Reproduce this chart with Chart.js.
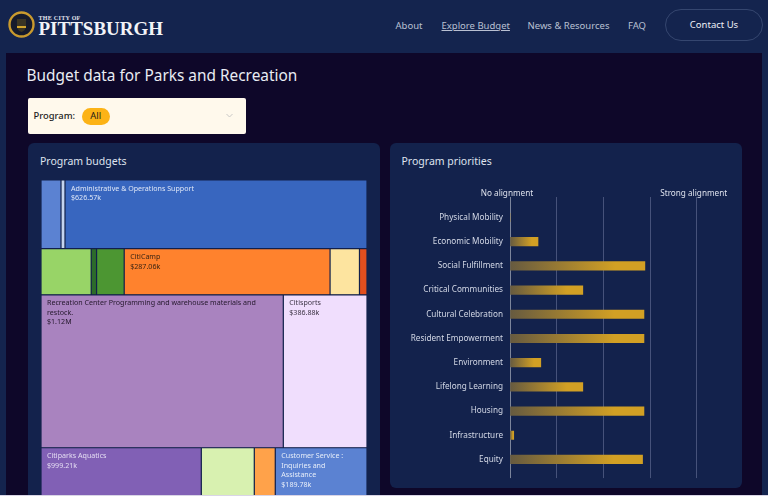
<!DOCTYPE html>
<html>
<head>
<meta charset="utf-8">
<title>Budget data for Parks and Recreation</title>
<script src="https://cdn.jsdelivr.net/npm/chart.js@4/dist/chart.umd.js"></script>
<style>
  html, body { margin: 0; padding: 0; }
  body { width: 768px; height: 496px; overflow: hidden; position: relative; background: #14244e; font-family: "Noto Sans", sans-serif; color: #fff; }
  .abs { position: absolute; white-space: nowrap; }
  #main { left: 6px; top: 53px; width: 756px; height: 443px; background: #0e0729; }
  #seal { left: 8px; top: 11px; width: 27px; height: 27px; }
  #cityof { left: 38.5px; top: 14px; font: bold 6px/8px "Liberation Serif", serif; letter-spacing: .3px; color: #e4e6ee; }
  #city { left: 38.5px; top: 18px; font: bold 19px/22px "Liberation Serif", serif; color: #f2f3f7; }
  .nav { top: 18.5px; font-size: 9.5px; line-height: 14px; color: #b9c0d2; }
  #contact { left: 665px; top: 9px; width: 96px; height: 30px; border: 1px solid #35466f; border-radius: 16px; text-align: center; line-height: 30.500px; font-size: 9.5px; color: #eef0f6; }
  #title { left: 26.5px; top: 65px; font-size: 15.4px; line-height: 22px; color: #e9ecf3; }
  #filter { left: 28px; top: 98px; width: 218px; height: 36px; background: #fff9ec; border-radius: 2px; }
  #filter b { position: absolute; left: 5.5px; top: 11px; font-size: 9.4px; line-height: 14px; font-weight: 500; color: #1d1d22; }
  #pill { position: absolute; left: 53.5px; top: 10px; width: 28.5px; height: 16.5px; border-radius: 9px; background: #fcb316; color: #26201a; font-size: 9.4px; line-height: 16.5px; text-align: center; }
  #chev { position: absolute; left: 197.5px; top: 15px; }
  .panel { top: 143px; background: #13224c; border-radius: 6px; }
  #budgets { left: 28px; width: 352px; height: 400px; }
  #priorities { left: 389.5px; width: 352px; height: 345px; }
  .head { top: 154px; font-size: 10.5px; line-height: 15px; color: #dfe3ee; }
  #treeCanvas { position: absolute; left: 41px; top: 180px; }
  #barCanvas { position: absolute; left: 390px; top: 180px; }
  #edge { left: 0; top: 495px; width: 768px; height: 1px; background: #d9d5e6; }
</style>
</head>
<body>
<div class="abs" id="main"></div>
<svg class="abs" id="seal" viewBox="0 0 27 27">
  <circle cx="13.5" cy="13.5" r="12" fill="#151a2c" stroke="#c99a2e" stroke-width="2.4"></circle>
  <path d="M9 8h9v8q-1 4-4.5 5q-3.500-1-4.500-5z" fill="#3a3524"></path>
  <path d="M9 15h9v2h-9z" fill="#d2a52e"></path>
</svg>
<div class="abs" id="cityof">THE CITY OF</div>
<div class="abs" id="city">PITTSBURGH</div>
<div class="abs nav" style="left:395.500px">About</div>
<div class="abs nav" style="left:441.500px;text-decoration:underline">Explore Budget</div>
<div class="abs nav" style="left:527.500px">News &amp; Resources</div>
<div class="abs nav" style="left:628px">FAQ</div>
<div class="abs" id="contact">Contact Us</div>
<div class="abs" id="title">Budget data for Parks and Recreation</div>
<div class="abs" id="filter">
  <b>Program:</b>
  <div id="pill">All</div>
  <svg id="chev" width="7" height="5" viewBox="0 0 7 5"><path d="M.5 1l3 3 3-3" fill="none" stroke="#c9c8c6" stroke-width="1"></path></svg>
</div>
<div class="abs panel" id="budgets"></div>
<div class="abs panel" id="priorities"></div>
<div class="abs head" style="left:40px">Program budgets</div>
<div class="abs head" style="left:401.500px">Program priorities</div>
<canvas id="treeCanvas" width="326" height="474"></canvas>
<canvas id="barCanvas" width="351" height="310"></canvas>
<div class="abs" id="edge"></div>
<script>
// treemap cells, the last one is the part of the map below the fold
const budgetLabels = [
  '', '', 'Administrative & Operations Support',
  '', '', '', 'CitiCamp', '', '',
  'Recreation Center Programming and warehouse materials and restock.', 'Citisports',
  'Citiparks Aquatics', '', '', 'Customer Service : Inquiries and Assistance', ''
];
const budgetValues = [
  41500, 8300, 626570,
  70000, 7500, 38500, 287060, 41000, 10500,
  1120000, 386880,
  999210, 109600, 43400, 189780, 690000
];
const budgetColors = [
  '#5b82d2', '#c5d5ef', '#3866bf',
  '#98d467', '#2c6b2a', '#4c9632', '#ff822d', '#fde49f', '#e24f1e',
  '#a983bf', '#f0defd',
  '#8160b5', '#d8f1b0', '#ffa24a', '#5b82d2', '#13224c'
];
const budgetTextColors = [
  '', '', '#dfe7f7',
  '', '', '', '#3a2414', '', '',
  '#24182c', '#3c3444',
  '#e4dcf2', '', '', '#e6edf9', ''
];
// rows of columns of rows, numbers point into the arrays above
const budgetTree = [[0, 1, 2], [3, 4, 5, 6, 7, 8], [9, 10], [11, [[12, 13, 14], [15]]]];

const priorityLabels = [
  'Physical Mobility', 'Economic Mobility', 'Social Fulfillment', 'Critical Communities',
  'Cultural Celebration', 'Resident Empowerment', 'Environment', 'Lifelong Learning',
  'Housing', 'Infrastructure', 'Equity'
];
const priorityValues = [0, 0.6, 2.89, 1.56, 2.87, 2.87, 0.66, 1.56, 2.87, 0.08, 2.84];
const alignmentTicks = ['No alignment', '', '', '', 'Strong alignment'];

const LABEL_FONT = '7.1px "Noto Sans"';

function nodeValue(node) {
  if (Array.isArray(node)) {
    return node.reduce((sum, child) => sum + nodeValue(child), 0);
  }
  return budgetValues[node];
}

// plain slice and dice, areas follow the values
function layoutNode(node, box, vertical, cells) {
  if (!Array.isArray(node)) {
    cells[node] = box;
    return;
  }
  const total = nodeValue(node);
  let done = 0;
  for (let child of node) {
    const from = done / total;
    done += nodeValue(child);
    const to = done / total;
    const part = vertical
      ? {x: box.x, x2: box.x2, y: box.y + (box.y2 - box.y) * from, y2: box.y + (box.y2 - box.y) * to}
      : {x: box.x + (box.x2 - box.x) * from, x2: box.x + (box.x2 - box.x) * to, y: box.y, y2: box.y2};
    layoutNode(child, part, !vertical, cells);
  }
}

class CellController extends Chart.DatasetController {
  update(mode) {
    const rects = this.getMeta().data;
    this.updateElements(rects, 0, rects.length, mode);
  }

  updateElements(rects, start, count, mode) {
    const xScale = this.getMeta().xScale;
    const yScale = this.getMeta().yScale;
    const cells = this.getDataset().data;
    for (let i = start; i < start + count; i++) {
      const top = yScale.getPixelForValue(cells[i].y);
      const bottom = yScale.getPixelForValue(cells[i].y2);
      this.updateElement(rects[i], i, {
        horizontal: true,
        x: xScale.getPixelForValue(cells[i].x),
        base: xScale.getPixelForValue(cells[i].x2),
        y: (top + bottom) / 2,
        height: bottom - top,
        borderSkipped: {},
        enableBorderRadius: false,
        inflateAmount: 0,
        options: this.resolveDataElementOptions(i, mode)
      }, mode);
    }
  }
}
CellController.id = 'cellmap';
CellController.defaults = {dataElementType: 'bar', datasetElementType: false};
Chart.register(CellController);

function moneyLabel(value) {
  if (value >= 1000000) {
    return '$' + (value / 1000000).toFixed(2) + 'M';
  }
  return '$' + (value / 1000).toFixed(2) + 'k';
}

function wrapText(ctx, text, width) {
  const lines = [];
  let line = '';
  for (let word of text.split(' ')) {
    const next = line ? line + ' ' + word : word;
    if (line && ctx.measureText(next).width > width) {
      lines.push(line);
      line = word;
    } else {
      line = next;
    }
  }
  lines.push(line);
  return lines;
}

const cellLabels = {
  id: 'cellLabels',
  afterDatasetsDraw(chart) {
    const ctx = chart.ctx;
    ctx.save();
    ctx.font = LABEL_FONT;
    ctx.textBaseline = 'middle';
    chart.getDatasetMeta(0).data.forEach((rect, i) => {
      if (!budgetLabels[i]) {
        return;
      }
      const left = rect.x + 6;
      const top = rect.y - rect.height / 2 + 8.5;
      const lines = wrapText(ctx, budgetLabels[i], rect.base - rect.x - 12);
      lines.push(moneyLabel(budgetValues[i]));
      ctx.fillStyle = budgetTextColors[i];
      lines.forEach((line, n) => ctx.fillText(line, left, top + n * 9.5));
    });
    ctx.restore();
  }
};

const cells = [];
const budgetTotal = nodeValue(budgetTree);
layoutNode(budgetTree, {x: 0, x2: 1, y: 0, y2: budgetTotal}, true, cells);

new Chart(document.getElementById('treeCanvas'), {
  type: 'cellmap',
  data: {
    labels: budgetLabels,
    datasets: [{
      data: cells,
      backgroundColor: budgetColors,
      borderColor: 'rgba(19,34,76,0.45)',
      borderWidth: 0.6
    }]
  },
  options: {
    responsive: false,
    animation: false,
    events: [],
    plugins: {legend: {display: false}, tooltip: {enabled: false}},
    scales: {
      x: {type: 'linear', display: false, min: 0, max: 1},
      y: {type: 'linear', display: false, reverse: true, min: 0, max: budgetTotal}
    }
  },
  plugins: [cellLabels]
});

function barGradient(context) {
  const chart = context.chart;
  if (!chart.chartArea || !context.parsed) {
    return '#d0a024';
  }
  const start = chart.scales.x.getPixelForValue(0);
  const end = chart.scales.x.getPixelForValue(context.parsed.x);
  const fill = chart.ctx.createLinearGradient(start, 0, Math.max(end, start + 1), 0);
  fill.addColorStop(0, '#665a40');
  fill.addColorStop(0.78, '#d2a024');
  fill.addColorStop(1, '#d2a024');
  return fill;
}

new Chart(document.getElementById('barCanvas'), {
  type: 'bar',
  data: {
    datasets: [{
      data: priorityValues.map((value, i) => ({x: value, y: i})),
      backgroundColor: barGradient,
      barThickness: 8.5
    }]
  },
  options: {
    indexAxis: 'y',
    responsive: false,
    animation: false,
    events: [],
    layout: {padding: {left: 0, right: 44.3, top: 0, bottom: 0}},
    plugins: {legend: {display: false}, tooltip: {enabled: false}},
    scales: {
      x: {
        type: 'linear',
        position: 'top',
        min: 0,
        max: 4,
        afterFit: (scale) => { scale.height = 19; },
        afterBuildTicks: (scale) => { scale.ticks = alignmentTicks.map((name, i) => ({value: i})); },
        border: {display: false},
        grid: {
          tickLength: 2,
          color: (ctx) => ctx.index === 0 ? '#7c859c' : '#46527a'
        },
        ticks: {
          maxRotation: 0,
          autoSkip: false,
          padding: -2,
          labelOffset: -3,
          color: '#dde1ec',
          font: {family: 'Noto Sans', size: 8.2},
          callback: (value) => alignmentTicks[value]
        }
      },
      y: {
        type: 'linear',
        offset: false,
        reverse: true,
        min: -0.765,
        max: 10.77,
        afterFit: (scale) => { scale.width = 120; },
        afterBuildTicks: (scale) => { scale.ticks = priorityLabels.map((name, i) => ({value: i})); },
        border: {display: false},
        grid: {display: false, drawTicks: false},
        ticks: {
          autoSkip: false,
          padding: 7,
          color: '#d3d8e6',
          font: {family: 'Noto Sans', size: 8.2},
          callback: (value) => priorityLabels[value]
        }
      }
    }
  }
});
</script>
</body>
</html>
